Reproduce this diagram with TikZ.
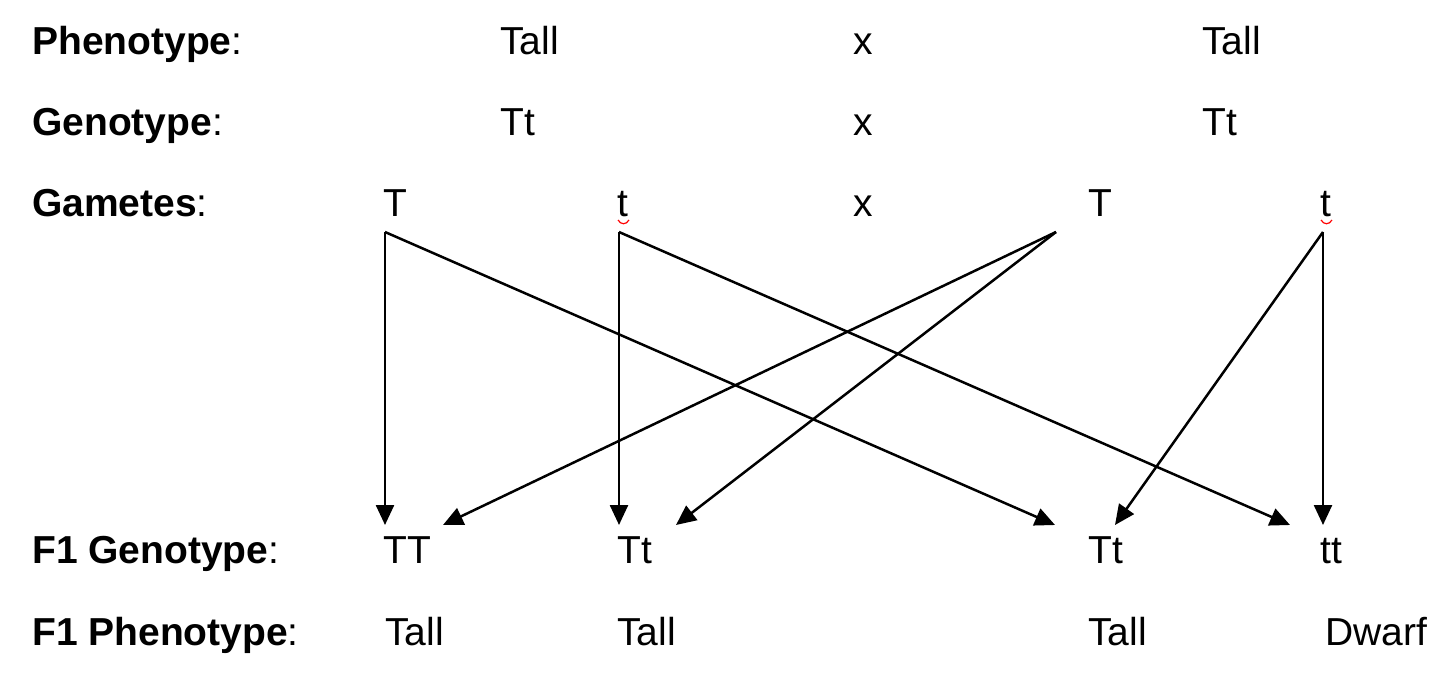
\documentclass[tikz,border=0pt]{standalone}
\usepackage{fontspec}
\setmainfont{Liberation Sans}
\usetikzlibrary{arrows.meta,calc}
\begin{document}
\begin{tikzpicture}[x=1pt,y=-1pt,
  txt/.style={anchor=base west,inner sep=0pt,font=\fontsize{39}{47}\selectfont},
  arr/.style={line width=2.5pt,-{Triangle[length=20pt,width=18pt]}},
  squig/.style={red,line width=1.2pt}]
\useasboundingbox (0,0) rectangle (1440,684);
% row labels
\node[txt] (l1) at (32,55) {\textbf{Phenotype}:};
\node[txt] (l2) at (32,136) {\textbf{Genotype}:};
\node[txt] (l3) at (32,217) {\textbf{Gametes}:};
\node[txt] (l4) at (32,563) {\textbf{F1 Genotype}:};
\node[txt] (l5) at (32,645) {\textbf{F1 Phenotype}:};
% row 1
\node[txt] (p1) at (500,55) {Tall};
\node[txt] (x1) at (853,55) {x};
\node[txt] (p2) at (1202,55) {Tall};
% row 2
\node[txt] (q1) at (500,136) {Tt};
\node[txt] (x2) at (853,136) {x};
\node[txt] (q2) at (1202,136) {Tt};
% row 3 gametes
\node[txt] (g1) at (383,217) {T};
\node[txt] (g2) at (617,217) {t};
\node[txt] (x3) at (853,217) {x};
\node[txt] (g3) at (1088,217) {T};
\node[txt] (g4) at (1320,217) {t};
% row 4 F1 genotype
\node[txt] (f1) at (383,563) {TT};
\node[txt] (f2) at (617,563) {Tt};
\node[txt] (f3) at (1088,563) {Tt};
\node[txt] (f4) at (1320,563) {tt};
% row 5 F1 phenotype
\node[txt] (h1) at (385,645) {Tall};
\node[txt] (h2) at (617,645) {Tall};
\node[txt] (h3) at (1088,645) {Tall};
\node[txt] (h4) at (1325,645) {Dwarf};
% spell-check squiggles
\draw[squig] ($(g2.base west)+(1,3)$) .. controls ($(g2.base west)+(4,8)$) and ($(g2.base west)+(9,8)$) .. ($(g2.base west)+(12,3)$);
\draw[squig] ($(g4.base west)+(1,3)$) .. controls ($(g4.base west)+(4,8)$) and ($(g4.base west)+(9,8)$) .. ($(g4.base west)+(12,3)$);
% start points
\coordinate (s1) at ($(g1.base west)+(2,15)$);
\coordinate (s2) at ($(g2.base west)+(2,15)$);
\coordinate (s3) at ($(g3.base west)+(-32,15)$);
\coordinate (s4) at ($(g4.base west)+(3,15)$);
% arrows
\draw[arr] (s1) -- ($(f1.base west)+(2,-38)$);
\draw[arr] (s1) -- ($(f3.base west)+(-33,-38)$);
\draw[arr] (s2) -- ($(f2.base west)+(2,-38)$);
\draw[arr] (s2) -- ($(f4.base west)+(-30,-38)$);
\draw[arr] (s3) -- ($(f1.base west)+(60,-38)$);
\draw[arr] (s3) -- ($(f2.base west)+(59,-38)$);
\draw[arr] (s4) -- ($(f3.base west)+(27,-38)$);
\draw[arr] (s4) -- ($(f4.base west)+(3,-38)$);
\end{tikzpicture}
\end{document}
